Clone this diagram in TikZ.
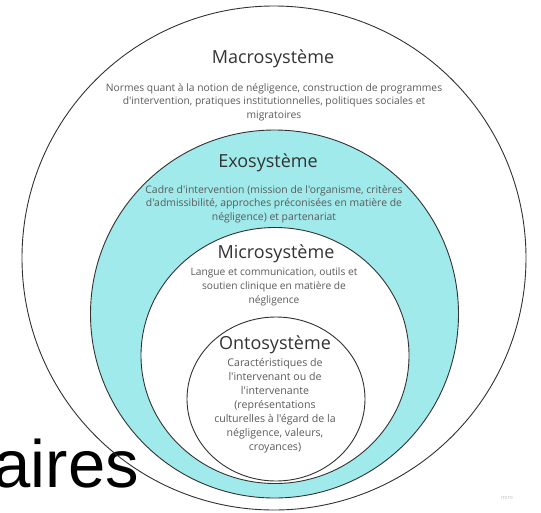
\documentclass[tikz,border=0pt]{standalone}
\usepackage{fontspec}
\setmainfont{Open Sans}[Ligatures=TeXOff]
\newfontfamily\bigsans{Liberation Sans}
\definecolor{exocyan}{RGB}{160,234,236}
\definecolor{linegray}{RGB}{50,50,50}
\definecolor{titlegray}{RGB}{51,51,51}
\definecolor{bodygray}{RGB}{90,90,90}
\begin{document}
\begin{tikzpicture}[x=1pt,y=-1pt,
  ring/.style={draw=linegray,line width=0.9pt},
  title/.style={text=titlegray,font=\fontsize{18}{21}\selectfont,inner sep=0pt},
  body/.style={text=bodygray,font=\fontsize{10.3}{13.5}\selectfont,align=center,inner sep=0pt}]
\useasboundingbox (0,0) rectangle (541,512);
\node[anchor=base east,font=\bigsans\fontsize{67}{67}\selectfont,inner sep=0pt] (aires) at (139,487) {aires};
\draw[ring] (274,258) circle[radius=252];
\draw[ring,fill=exocyan] (274.5,314) circle[radius=184];
\draw[ring,fill=white] (275,355.5) ellipse[x radius=134,y radius=128];
\draw[ring,fill=white] (276,399) ellipse[x radius=89,y radius=82];
\node[title] (macro) at (273,59) {Macrosystème};
\node[body] (macrob) at (274,102) {Normes quant à la notion de négligence, construction de programmes\\d'intervention, pratiques institutionnelles, politiques sociales et\\migratoires};
\node[title] (exo) at (268,163) {Exosystème};
\node[body,font=\fontsize{10.4}{13.5}\selectfont] (exob) at (274,204) {Cadre d'intervention (mission de l'organisme, critères\\d'admissibilité, approches préconisées en matière de\\négligence) et partenariat};
\node[title] (micro) at (276,254) {Microsystème};
\node[body,font=\fontsize{10.2}{14}\selectfont] (microb) at (274,286.5) {Langue et communication, outils et\\soutien clinique en matière de\\négligence};
\node[title] (onto) at (275,345) {Ontosystème};
\node[body,font=\fontsize{10.6}{14}\selectfont] (ontob) at (275,406) {Caractéristiques de\\l'intervenant ou de\\l'intervenante\\(représentations\\culturelles à l'égard de la\\négligence, valeurs,\\croyances)};
\node[text=black!25,font=\fontsize{5.5}{6}\selectfont,inner sep=0pt] (miro) at (507,498) {miro};
\end{tikzpicture}
\end{document}
